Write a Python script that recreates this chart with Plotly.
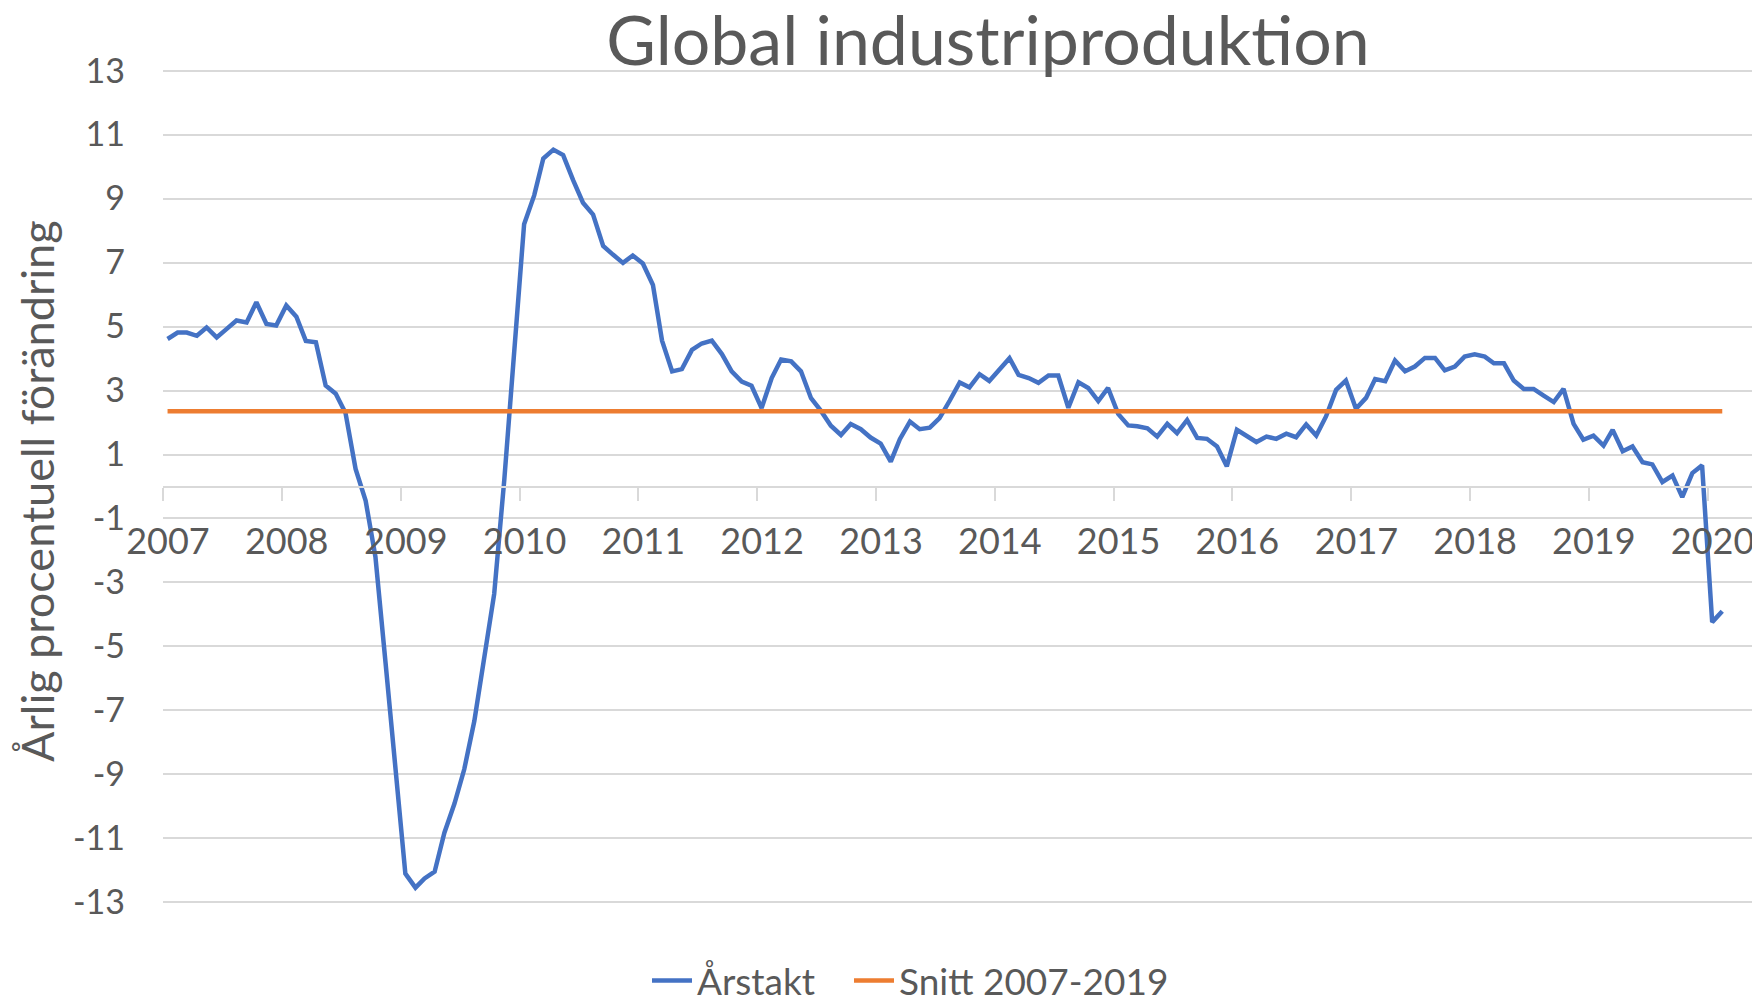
import pandas as pd
import plotly.graph_objects as go

# Monthly year-on-year change (%), Jan 2007 - Feb 2020
arstakt = [
    4.61, 4.81, 4.81, 4.71, 4.97, 4.66, 4.92, 5.19, 5.13, 5.76, 5.08, 5.03,      # 2007
    5.66, 5.31, 4.55, 4.51, 3.16, 2.90, 2.30, 0.55, -0.45, -2.20, -5.50, -8.90,  # 2008
    -12.10, -12.54, -12.25, -12.04, -10.82, -9.91, -8.84, -7.33, -5.30, -3.36, 0.20, 4.00,  # 2009
    8.20, 9.10, 10.25, 10.53, 10.36, 9.57, 8.87, 8.50, 7.52, 7.25, 6.99, 7.22,   # 2010
    6.97, 6.30, 4.56, 3.60, 3.67, 4.27, 4.47, 4.56, 4.14, 3.60, 3.28, 3.15,      # 2011
    2.45, 3.39, 3.97, 3.91, 3.60, 2.76, 2.37, 1.90, 1.61, 1.95, 1.79, 1.53,      # 2012
    1.34, 0.78, 1.48, 2.03, 1.79, 1.84, 2.14, 2.68, 3.25, 3.10, 3.51, 3.30,      # 2013
    3.67, 4.01, 3.49, 3.39, 3.24, 3.47, 3.47, 2.46, 3.26, 3.08, 2.67, 3.08,      # 2014
    2.27, 1.91, 1.88, 1.82, 1.56, 1.96, 1.67, 2.08, 1.52, 1.49, 1.25, 0.63,      # 2015
    1.77, 1.56, 1.39, 1.56, 1.49, 1.65, 1.54, 1.94, 1.59, 2.19, 3.02, 3.31,      # 2016
    2.43, 2.77, 3.36, 3.29, 3.94, 3.60, 3.75, 4.02, 4.02, 3.63, 3.75, 4.06,      # 2017
    4.13, 4.06, 3.85, 3.85, 3.31, 3.05, 3.05, 2.84, 2.64, 3.05, 1.96, 1.46,      # 2018
    1.59, 1.28, 1.77, 1.10, 1.25, 0.76, 0.69, 0.14, 0.34, -0.33, 0.42, 0.66,     # 2019
    -4.24, -3.90,                                                                # 2020
]
snitt_value = 2.35  # Snitt 2007-2019

months = pd.date_range("2007-01-01", periods=len(arstakt), freq="MS") + pd.Timedelta(days=14)
snitt = [snitt_value] * len(arstakt)

y_ticks = list(range(-13, 14, 2))

title_text = "Global industriproduktion"
y_title = "Årlig procentuell förändring"
series_names = ["Årstakt", "Snitt 2007-2019"]

TXT = "#595959"
GRID = "#D9D9D9"
FONT = "Lato"

# The page adds an 8px body margin, so the figure is 8px smaller than the window.
W, H = 1752, 992
ML, MR, MT, MB = 155, 0, 61, 96
PW, PH = W - ML - MR, H - MT - MB

fig = go.Figure()
fig.add_trace(go.Scatter(x=months, y=arstakt, mode="lines", name=series_names[0],
                         line=dict(color="#4472C4", width=4.5), legend="legend"))
fig.add_trace(go.Scatter(x=months, y=snitt, mode="lines", name=series_names[1],
                         line=dict(color="#ED7D31", width=4.5), legend="legend2"))

legend_common = dict(orientation="h", xanchor="left",
                     y=-(973 - (MT + PH)) / PH, yanchor="middle",
                     font=dict(size=37, color=TXT, family=FONT), itemwidth=40,
                     bgcolor="rgba(0,0,0,0)")

fig.update_layout(
    width=W, height=H,
    margin=dict(l=ML, r=MR, t=MT, b=MB, autoexpand=False),
    paper_bgcolor="white", plot_bgcolor="white",
    font=dict(family=FONT, color=TXT),
    title=dict(text=title_text, x=980 / W, xref="container", xanchor="center",
               y=1 - 33 / H, yref="container", yanchor="middle",
               font=dict(size=68, color=TXT, family=FONT)),
    legend=dict(x=(639 - ML) / PW, **legend_common),
    legend2=dict(x=(841 - ML) / PW, **legend_common),
    showlegend=True,
)

fig.update_xaxes(
    type="date",
    range=["2007-01-01", "2020-06-10"],
    anchor="free", position=0.5,
    showgrid=False, zeroline=False,
    showline=True, linecolor=GRID, linewidth=2,
    ticks="outside", ticklen=13, tickwidth=2, tickcolor=GRID,
    tick0="2007-01-01", dtick="M12", tickformat="%Y",
    tickfont=dict(size=36, color=TXT, family=FONT),
    ticklabelstandoff=10, ticklabelshift=5,
)

fig.update_yaxes(
    range=[-13.05, 13.05],
    tickmode="array", tickvals=y_ticks, ticktext=[str(v) for v in y_ticks],
    showgrid=True, gridcolor=GRID, gridwidth=2,
    zeroline=False, showline=False, ticks="",
    tickfont=dict(size=34, color=TXT, family=FONT),
    ticklabelstandoff=37,
)

fig.add_annotation(text=y_title, textangle=-90, xref="paper", yref="paper",
                   x=(29 - ML) / PW, y=(H - MB - 483) / PH,
                   xanchor="center", yanchor="middle", showarrow=False,
                   font=dict(size=45, color=TXT, family=FONT))

fig.write_html("out.html")
